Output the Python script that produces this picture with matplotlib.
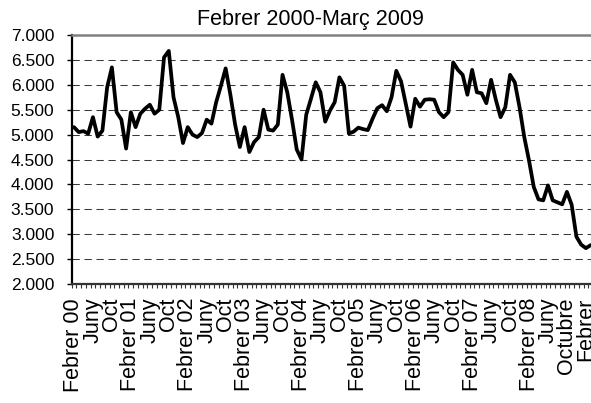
import numpy as np
import matplotlib
matplotlib.use("Agg")
import matplotlib.pyplot as plt

plt.rcParams['font.family'] = ['Liberation Sans', 'DejaVu Sans']

# monthly series, Febrer 2000 .. Març 2009 (110 months)
values = [
    5150, 5050, 5070, 5020, 5350, 4960, 5080, 5950, 6350, 5450,
    5300, 4720, 5450, 5150, 5420, 5520, 5600, 5420, 5500, 6550,
    6680, 5750, 5350, 4830, 5150, 5000, 4950, 5030, 5300, 5220,
    5650, 5980, 6330, 5800, 5200, 4750, 5150, 4650, 4850, 4950,
    5500, 5100, 5080, 5200, 6200, 5850, 5300, 4700, 4500, 5400,
    5720, 6050, 5850, 5260, 5480, 5650, 6150, 5980, 5020, 5060,
    5140, 5110, 5090, 5320, 5530, 5590, 5470, 5750, 6280, 6070,
    5620, 5160, 5720, 5560, 5700, 5710, 5700, 5450, 5350, 5450,
    6450, 6300, 6200, 5800, 6300, 5850, 5830, 5630, 6100, 5700,
    5350, 5550, 6200, 6050, 5550, 4950, 4480, 3950, 3700, 3680,
    3980, 3680, 3640, 3600, 3850, 3590, 2950, 2790, 2720, 2780,
]

# a label every 4 months
tick_labels = []
for yy in range(0, 8):
    tick_labels += [f"Febrer {yy:02d}", "Juny", "Oct"]
tick_labels += ["Febrer 08", "Juny", "Octubre", "Febrer"]

y_ticks = [2000, 2500, 3000, 3500, 4000, 4500, 5000, 5500, 6000, 6500, 7000]

W, H = 591, 403
fig = plt.figure(figsize=(W / 100, H / 100), dpi=100)
left, right, top, bottom = 71.6, 593.0, 35.0, 284.0
ax = fig.add_axes([left / W, 1 - bottom / H, (right - left) / W, (bottom - top) / H])

x = np.arange(len(values))
ax.plot(x, values, color='black', linewidth=2.7, solid_joinstyle='round',
        solid_capstyle='round', zorder=3)

ax.set_xlim(-0.5, len(values) - 0.5)
ax.set_ylim(2000, 7000)

# dashed gridlines
for v in y_ticks[1:-1]:
    ax.axhline(v, color='#3a3a3a', linewidth=0.75, linestyle=(0, (7, 4.5)), zorder=1)

ax.set_yticks(y_ticks)
ax.set_yticklabels([f"{v:,.0f}".replace(',', '.') for v in y_ticks], fontsize=12.5)
ax.tick_params(axis='y', direction='out', length=3.5, width=1, pad=9, color='black')

ax.set_xticks(np.arange(0, len(values), 4))
ax.set_xticklabels(tick_labels, rotation=90, fontsize=15.5, va='top', ha='center')
ax.tick_params(axis='x', which='major', length=0, pad=10)
ax.set_xticks(np.arange(-0.5, len(values), 1), minor=True)
ax.tick_params(axis='x', which='minor', direction='out', length=3, width=0.8, color='#333333')

ax.spines['right'].set_visible(False)
ax.spines['top'].set_color('#808080')
ax.spines['top'].set_linewidth(1.8)
ax.spines['left'].set_linewidth(1.6)
ax.spines['bottom'].set_linewidth(1.6)
ax.spines['bottom'].set_color('#333333')

fig.text(310 / W, 1 - 25 / H, "Febrer 2000-Març 2009", fontsize=15.5,
         ha='center', va='baseline')

fig.savefig('out.png', dpi=100)
